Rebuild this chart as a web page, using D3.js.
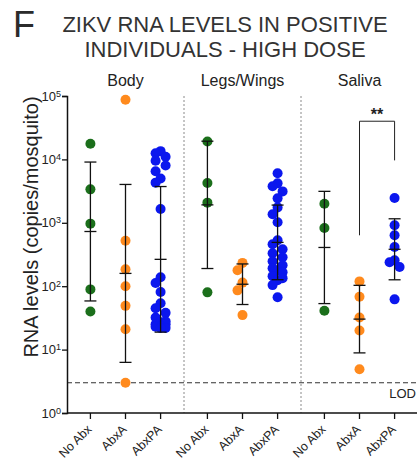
<!DOCTYPE html>
<html>
<head>
<meta charset="utf-8">
<script src="https://cdn.jsdelivr.net/npm/d3@7/dist/d3.min.js"></script>
<style>
  html, body { margin: 0; padding: 0; background: #fff; }
  svg { display: block; font-family: "Liberation Sans", Arial, Helvetica, sans-serif; }
</style>
</head>
<body>
<svg id="chart" width="417" height="463"></svg>
<script>
// Tissues (panels) and treatment groups
const panels = ["Body", "Legs/Wings", "Saliva"];
const groups = ["No Abx", "AbxA", "AbxPA"];
const groupColors = ["#1b6f1b", "#ff8a1d", "#0b17ee"];

// RNA copies per mosquito, one array per tissue × treatment
const bodyNoAbx = [17700, 3370, 970, 89, 40];
const bodyAbxA = [87000, 520, 185, 100, 49, 21, 3];
const bodyAbxPA = [13500, 12500, 11000, 9500, 8000, 6500, 5000, 4300, 1650,
  138, 112, 81, 54, 45, 38, 32, 27, 23.4, 21.9, 28, 25, 23, 22, 25];
const legsNoAbx = [19200, 4240, 2080, 80];
const legsAbxA = [233, 179, 114, 86, 35];
const legsAbxPA = [6030, 4190, 3760, 3130, 2430, 1750, 1360, 1020, 530, 458, 383,
  331, 286, 248, 214, 192, 179, 166, 144, 134, 124, 104, 67];
const salivaNoAbx = [2000, 830, 41];
const salivaAbxA = [119, 68, 32, 20, 4.9];
const salivaAbxPA = [2460, 914, 635, 416, 257, 239, 201, 62];

// Axis ticks, limit of detection, significance annotation
const yTicks = [1, 10, 100, 1000, 10000, 100000];
const lod = 3;
const sigPanel = "Saliva";
const sigPair = ["AbxA", "AbxPA"];
const sigLabel = "**";
const sigTop = 40000, sigLeftEnd = 635, sigRightEnd = 9650;

const seriesByPanel = {
  "Body": [bodyNoAbx, bodyAbxA, bodyAbxPA],
  "Legs/Wings": [legsNoAbx, legsAbxA, legsAbxPA],
  "Saliva": [salivaNoAbx, salivaAbxA, salivaAbxPA]
};

const svg = d3.select("#chart");
const W = 417;
const plot = { left: 67, right: 418, top: 96, bottom: 413 };

svg.append("rect").attr("width", W).attr("height", 463).attr("fill", "#fff");

const y = d3.scaleLog().domain([1, 1e5]).range([plot.bottom, plot.top]);
const outer = d3.scaleBand().domain(panels).range([plot.left, plot.right]);
const inner = d3.scalePoint().domain(groups).range([0, outer.bandwidth()]).padding(0.667);
const xPos = (p, g) => outer(p) + inner(g);

// Title
svg.append("text").attr("x", 13).attr("y", 37).attr("font-size", 36).attr("fill", "#2b2b2b").text("F");
const title = svg.append("text").attr("text-anchor", "middle").attr("font-size", 22).attr("fill", "#333");
title.append("tspan").attr("x", 225).attr("y", 32).text("ZIKV RNA LEVELS IN POSITIVE");
title.append("tspan").attr("x", 225).attr("y", 57).text("INDIVIDUALS - HIGH DOSE");

// Panel headers
svg.selectAll("text.panel").data(panels).join("text")
  .attr("class", "panel")
  .attr("x", d => outer(d) + outer.bandwidth() / 2)
  .attr("y", 86)
  .attr("text-anchor", "middle")
  .attr("font-size", 16)
  .attr("fill", "#222")
  .text(d => d);

// Panel separators
svg.selectAll("line.sep").data(panels.slice(1)).join("line")
  .attr("class", "sep")
  .attr("x1", d => outer(d)).attr("x2", d => outer(d))
  .attr("y1", plot.top).attr("y2", plot.bottom)
  .attr("stroke", "#8a8a8a").attr("stroke-width", 1).attr("stroke-dasharray", "2,2");

// LOD line
svg.append("line")
  .attr("x1", plot.left).attr("x2", W)
  .attr("y1", y(lod)).attr("y2", y(lod))
  .attr("stroke", "#333").attr("stroke-width", 1.2).attr("stroke-dasharray", "5,3");
svg.append("text")
  .attr("x", 416).attr("y", y(lod) + 15)
  .attr("text-anchor", "end").attr("font-size", 13).attr("fill", "#222")
  .text("LOD");

// Spread overlapping points sideways
function swarm(values, cx) {
  const pts = values.map(v => ({ v, py: y(v) })).sort((a, b) => a.py - b.py);
  const placed = [];
  const s = 5, dMin = 8;
  const cands = [0, -s, s];
  pts.forEach(p => {
    let best = null, bestD = -1;
    for (const o of cands) {
      let md = Infinity;
      placed.forEach(q => {
        const dd = Math.hypot(cx + o - q.px, p.py - q.py);
        if (dd < md) md = dd;
      });
      if (md >= dMin) { best = o; bestD = md; break; }
      if (md > bestD) { bestD = md; best = o; }
    }
    p.px = cx + best;
    placed.push(p);
  });
  return pts;
}

function logStats(values) {
  const l = values.map(v => Math.log10(v));
  const m = d3.mean(l);
  const sd = d3.deviation(l);
  return { mean: Math.pow(10, m), lo: Math.pow(10, m - sd), hi: Math.pow(10, m + sd) };
}

panels.forEach(p => {
  seriesByPanel[p].forEach((vals, gi) => {
    const g = groups[gi];
    const cx = xPos(p, g);
    const pts = swarm(vals, cx);
    svg.append("g").selectAll("circle").data(pts).join("circle")
      .attr("cx", d => d.px).attr("cy", d => d.py).attr("r", 5)
      .attr("fill", groupColors[gi]);
    const st = logStats(vals);
    const eb = svg.append("g").attr("stroke", "#111").attr("stroke-width", 1.3).attr("fill", "none");
    eb.append("line").attr("x1", cx).attr("x2", cx).attr("y1", y(st.hi)).attr("y2", y(st.lo));
    [st.hi, st.mean, st.lo].forEach(v => {
      eb.append("line").attr("x1", cx - 6).attr("x2", cx + 6).attr("y1", y(v)).attr("y2", y(v));
    });
  });
});

// Significance bracket
{
  const xa = xPos(sigPanel, sigPair[0]), xb = xPos(sigPanel, sigPair[1]);
  svg.append("path")
    .attr("d", `M${xa},${y(sigLeftEnd)}V${y(sigTop)}H${xb}V${y(sigRightEnd)}`)
    .attr("fill", "none").attr("stroke", "#222").attr("stroke-width", 1);
  svg.append("text")
    .attr("x", (xa + xb) / 2).attr("y", y(sigTop) - 1)
    .attr("text-anchor", "middle").attr("font-size", 16).attr("font-weight", "bold")
    .attr("fill", "#222").text(sigLabel);
}

// Y axis
const yAxis = d3.axisLeft(y).tickValues(yTicks).tickSize(5).tickPadding(1).tickFormat(() => "");
const yg = svg.append("g").attr("transform", `translate(${plot.left},0)`).call(yAxis);
yg.select(".domain").attr("stroke", "#111").attr("stroke-width", 1.5);
yg.selectAll(".tick line").attr("stroke", "#111").attr("stroke-width", 1.3);
yg.selectAll(".tick text").each(function (d) {
  const t = d3.select(this).attr("font-size", 13).attr("fill", "#222").attr("font-family", null);
  t.text("10");
  t.append("tspan").attr("dy", "-0.45em").attr("font-size", 9).text(Math.round(Math.log10(d)));
});

svg.append("text")
  .attr("transform", "translate(38,227) rotate(-90)")
  .attr("text-anchor", "middle").attr("font-size", 20).attr("fill", "#222")
  .text("RNA levels (copies/mosquito)");

// X axis
svg.append("line")
  .attr("x1", plot.left).attr("x2", W).attr("y1", plot.bottom).attr("y2", plot.bottom)
  .attr("stroke", "#111").attr("stroke-width", 1.5);
const cats = panels.flatMap(p => groups.map(g => ({ p, g })));
svg.selectAll("line.xt").data(cats).join("line")
  .attr("class", "xt")
  .attr("x1", d => xPos(d.p, d.g)).attr("x2", d => xPos(d.p, d.g))
  .attr("y1", plot.bottom).attr("y2", plot.bottom + 6)
  .attr("stroke", "#111").attr("stroke-width", 1.3);
svg.selectAll("text.xl").data(cats).join("text")
  .attr("class", "xl")
  .attr("transform", d => `translate(${xPos(d.p, d.g) + 2},${plot.bottom + 17}) rotate(-45)`)
  .attr("text-anchor", "end").attr("font-size", 12.5).attr("fill", "#222")
  .text(d => d.g);
</script>
</body>
</html>
